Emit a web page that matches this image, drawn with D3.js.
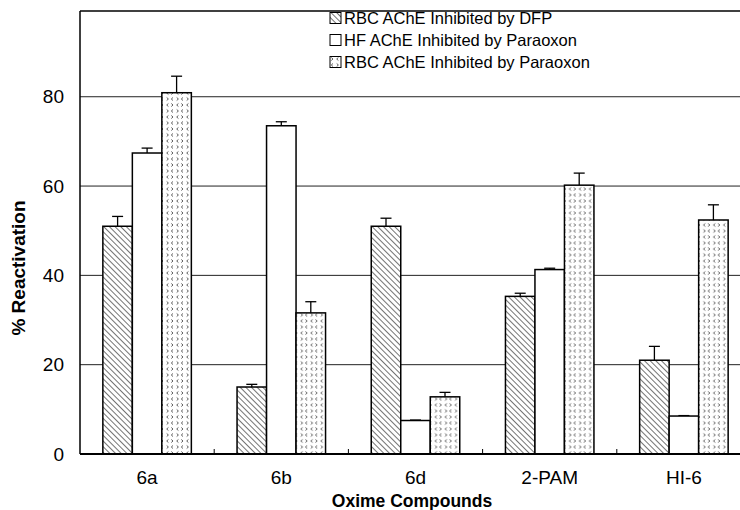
<!DOCTYPE html>
<html lang="en">
<head>
<meta charset="utf-8">
<title>Oxime Reactivation</title>
<style>
  body, html { margin: 0; padding: 0; background: #fff; }
  svg { display: block; font-family: "Liberation Sans", Arial, sans-serif; }
  .tick-label { font-size: 19px; fill: #000; }
  .title { font-size: 17.5px; font-weight: bold; fill: #000; }
  .ytitle { font-size: 19px; font-weight: bold; fill: #000; }
  .legend text { font-size: 16.5px; fill: #000; }
</style>
<script src="https://d3js.org/d3.v7.min.js"></script>
</head>
<body>
<svg id="chart" width="740" height="510"></svg>
<script>
// data
var compounds = ["6a", "6b", "6d", "2-PAM", "HI-6"];
var seriesNames = ["RBC AChE Inhibited by DFP", "HF AChE Inhibited by Paraoxon", "RBC AChE Inhibited by Paraoxon"];
var dfpVals = [51.0, 15.0, 51.0, 35.3, 21.0];
var dfpErr = [2.2, 0.6, 1.8, 0.7, 3.1];
var hfVals = [67.4, 73.5, 7.5, 41.3, 8.5];
var hfErr = [1.1, 0.9, 0.1, 0.3, 0.1];
var parVals = [80.9, 31.6, 12.8, 60.2, 52.4];
var parErr = [3.7, 2.5, 1.0, 2.7, 3.4];
var yTicks = [0, 20, 40, 60, 80];

var allVals = [dfpVals, hfVals, parVals];
var allErr = [dfpErr, hfErr, parErr];
var fills = ["url(#hatch)", "#fff", "url(#chevron)"];

var svg = d3.select("#chart");
var plotL = 80, plotR = 751, plotT = 11, plotB = 454;

var y = d3.scaleLinear().domain([0, 99.2]).range([plotB, plotT]);
var x0 = d3.scaleBand().domain(compounds).range([plotL, plotR]);
var groupW = 88.5;
var x1 = d3.scaleBand().domain(d3.range(3))
    .range([(x0.step() - groupW) / 2, (x0.step() + groupW) / 2]);

// patterns
var defs = svg.append("defs");
var hatch = defs.append("pattern")
    .attr("id", "hatch")
    .attr("patternUnits", "userSpaceOnUse")
    .attr("width", 4).attr("height", 4)
    .attr("patternTransform", "rotate(-45)");
hatch.append("rect").attr("width", 4).attr("height", 4).attr("fill", "#fff");
hatch.append("line")
    .attr("x1", 0).attr("y1", 0).attr("x2", 0).attr("y2", 4)
    .attr("stroke", "#000").attr("stroke-width", 1.1);

// small < and > marks, staggered
var chev = defs.append("pattern")
    .attr("id", "chevron")
    .attr("patternUnits", "userSpaceOnUse")
    .attr("width", 10).attr("height", 12);
chev.append("rect").attr("width", 10).attr("height", 12).attr("fill", "#fff");
var chevPaths = ["M3,1.5 L1.3,3 L3,4.5", "M6.7,1.5 L8.4,3 L6.7,4.5",
                 "M1.3,7.5 L3,9 L1.3,10.5", "M8.4,7.5 L6.7,9 L8.4,10.5"];
chevPaths.forEach(function(p) {
    chev.append("path").attr("d", p)
        .attr("fill", "none").attr("stroke", "#333").attr("stroke-width", 0.8);
});

// gridlines
svg.append("g").selectAll("line")
    .data(yTicks.filter(function(t) { return t > 0; }))
    .enter().append("line")
    .attr("x1", plotL).attr("x2", plotR)
    .attr("y1", function(d) { return y(d); })
    .attr("y2", function(d) { return y(d); })
    .attr("stroke", "#222").attr("stroke-width", 1);

// top frame line
svg.append("line")
    .attr("x1", plotL).attr("x2", plotR)
    .attr("y1", plotT).attr("y2", plotT)
    .attr("stroke", "#000").attr("stroke-width", 1.5);

// y tick labels
svg.append("g").selectAll("text")
    .data(yTicks)
    .enter().append("text")
    .attr("class", "tick-label")
    .attr("x", plotL - 16)
    .attr("y", function(d) { return y(d); })
    .attr("dy", "0.35em")
    .attr("text-anchor", "end")
    .text(function(d) { return d; });

// bars
var groups = svg.append("g").selectAll("g")
    .data(compounds)
    .enter().append("g")
    .attr("transform", function(d) { return "translate(" + x0(d) + ",0)"; });

groups.each(function(c, ci) {
    var g = d3.select(this);
    d3.range(3).forEach(function(si) {
        var v = allVals[si][ci], e = allErr[si][ci];
        var cx = x1(si) + x1.bandwidth() / 2;
        // error bar
        g.append("line")
            .attr("x1", cx).attr("x2", cx)
            .attr("y1", y(v)).attr("y2", y(v + e))
            .attr("stroke", "#000").attr("stroke-width", 1.3);
        g.append("line")
            .attr("x1", cx - 5.5).attr("x2", cx + 5.5)
            .attr("y1", y(v + e)).attr("y2", y(v + e))
            .attr("stroke", "#000").attr("stroke-width", 1.3);
        g.append("rect")
            .attr("x", x1(si))
            .attr("y", y(v))
            .attr("width", x1.bandwidth())
            .attr("height", y(0) - y(v))
            .attr("fill", fills[si])
            .attr("stroke", "#000")
            .attr("stroke-width", 1.5);
    });
});

// axis lines
svg.append("line")
    .attr("x1", plotL).attr("x2", plotL)
    .attr("y1", plotT).attr("y2", plotB)
    .attr("stroke", "#000").attr("stroke-width", 1.5);
svg.append("line")
    .attr("x1", plotL).attr("x2", plotR)
    .attr("y1", plotB).attr("y2", plotB)
    .attr("stroke", "#000").attr("stroke-width", 2);

// category separator ticks
svg.append("g").selectAll("line")
    .data(compounds.slice(1))
    .enter().append("line")
    .attr("x1", function(d) { return x0(d); })
    .attr("x2", function(d) { return x0(d); })
    .attr("y1", plotB).attr("y2", plotB - 5)
    .attr("stroke", "#000").attr("stroke-width", 1);

// category labels
svg.append("g").selectAll("text")
    .data(compounds)
    .enter().append("text")
    .attr("class", "tick-label")
    .attr("x", function(d) { return x0(d) + x0.bandwidth() / 2; })
    .attr("y", 484)
    .attr("text-anchor", "middle")
    .text(function(d) { return d; });

// axis titles
svg.append("text")
    .attr("class", "title")
    .attr("x", 412).attr("y", 507)
    .attr("text-anchor", "middle")
    .text("Oxime Compounds");
svg.append("text")
    .attr("class", "ytitle")
    .attr("transform", "translate(25,268) rotate(-90)")
    .attr("text-anchor", "middle")
    .text("%  Reactivation");

// legend
var legend = svg.append("g").attr("class", "legend")
    .attr("transform", "translate(330,18)");
var rows = legend.selectAll("g")
    .data(seriesNames)
    .enter().append("g")
    .attr("transform", function(d, i) { return "translate(0," + (i * 22) + ")"; });
rows.append("rect")
    .attr("x", 0).attr("y", -5.5)
    .attr("width", 11).attr("height", 11)
    .attr("fill", function(d, i) { return fills[i]; })
    .attr("stroke", "#000").attr("stroke-width", 1);
rows.append("text")
    .attr("x", 14).attr("y", 0)
    .attr("dy", "0.35em")
    .text(function(d) { return d; });
</script>
</body>
</html>
